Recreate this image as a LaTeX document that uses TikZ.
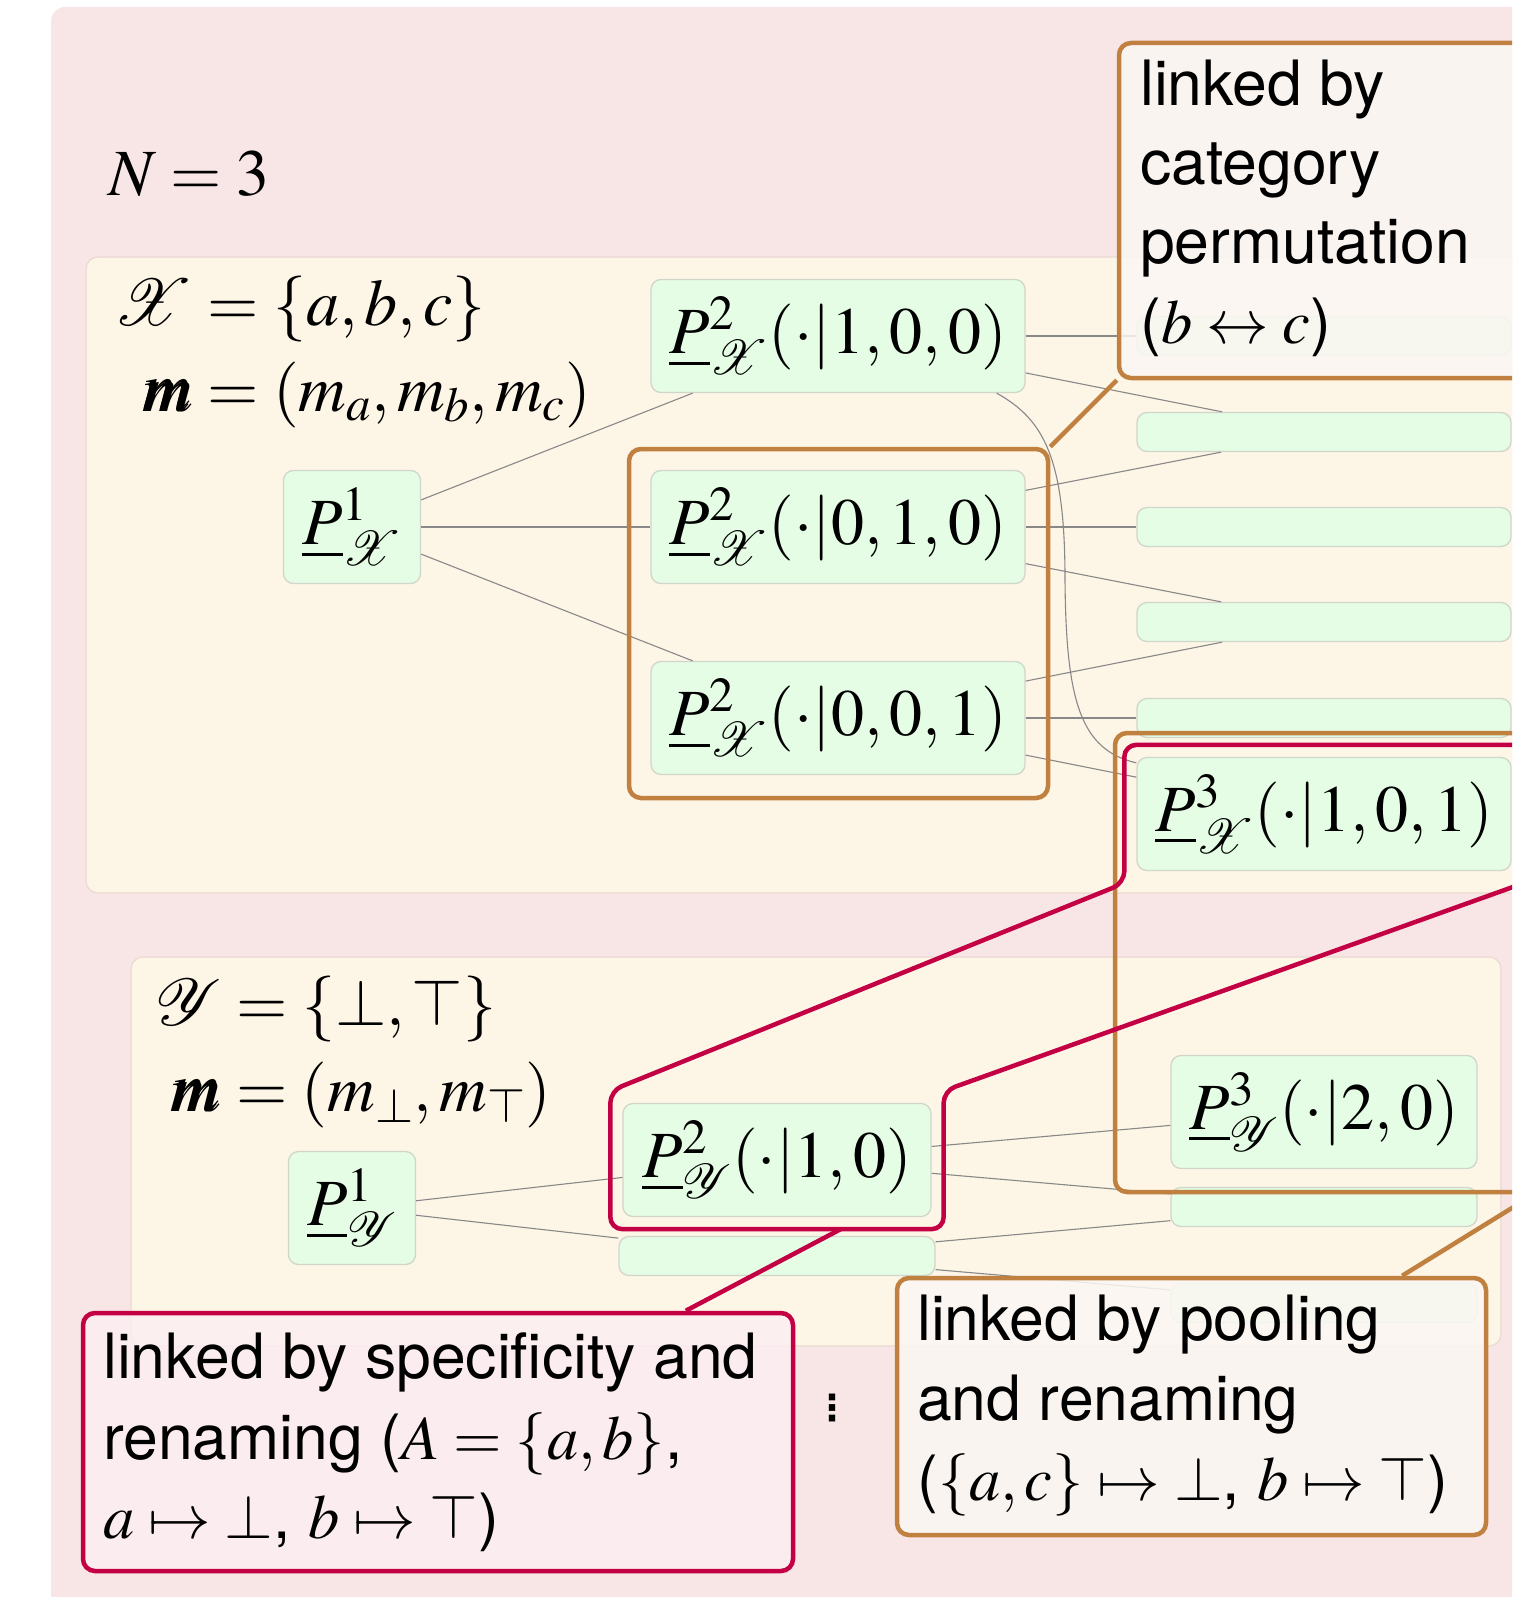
\documentclass[tikz,border=0pt]{standalone}
\usepackage{amsmath}
\usepackage{mathptmx}
\usepackage{bm}
\DeclareFontFamily{U}{rsfsx}{\skewchar\font127 }
\DeclareFontShape{U}{rsfsx}{m}{n}{<-> rsfs10}{}
\DeclareMathAlphabet{\mathscr}{U}{rsfsx}{m}{n}
\usepackage[no-math]{fontspec}
\setsansfont{TeX Gyre Heros}
\newfontfamily\dejavu{DejaVu Sans}
\usetikzlibrary{calc}
\definecolor{bgpink}{HTML}{F8E6E6}
\definecolor{boxyellow}{HTML}{FDF5E6}
\definecolor{boxline}{HTML}{EAD9D2}
\definecolor{nodegreen}{HTML}{E5FCE5}
\definecolor{nodeline}{HTML}{D0D6CA}
\definecolor{edgegray}{HTML}{888888}
\definecolor{linkorange}{HTML}{C0803F}
\definecolor{linkred}{HTML}{C40045}
\definecolor{calloutorange}{HTML}{FBF7F3}
\definecolor{calloutred}{HTML}{FBEEF1}
\newcommand{\mfont}{\fontsize{66}{80}\selectfont}
\newcommand{\sfont}{\fontsize{62.5}{80}\selectfont\sffamily}
\tikzset{
  setbox/.style={draw=boxline, line width=1.2pt, fill=boxyellow, rounded corners=12pt},
  pbox/.style={draw=nodeline, line width=1.3pt, fill=nodegreen, rounded corners=10pt, inner sep=0pt, font=\mfont},
  bigp/.style={pbox, minimum height=113pt},
  emptyp/.style={pbox, minimum height=39pt},
  edge/.style={draw=edgegray, line width=1.1pt},
  orangebox/.style={draw=linkorange, line width=4.5pt, rounded corners=12pt, inner sep=0pt},
  redshape/.style={draw=linkred, line width=4.5pt, rounded corners=12pt},
  ocallout/.style={draw=linkorange, line width=4.5pt, fill=calloutorange, fill opacity=0.85, rounded corners=12pt, inner sep=0pt},
  rcallout/.style={draw=linkred, line width=4.5pt, fill=calloutred, fill opacity=0.85, rounded corners=12pt, inner sep=0pt},
  olink/.style={draw=linkorange, line width=4.5pt},
  rlink/.style={draw=linkred, line width=4.5pt},
  mtext/.style={font=\mfont, inner sep=0pt, anchor=base west},
  ctext/.style={font=\sfont, inner sep=0pt, anchor=base west},
}
\begin{document}
\begin{tikzpicture}[x=1pt, y=-1pt]
\useasboundingbox (0,0) rectangle (1512,1597);
\clip (0,0) rectangle (1512,1597);
% background and set boxes
\fill[bgpink, rounded corners=14pt] (51,7) rectangle (1700,1750);
\draw[setbox] (86,257) rectangle (1700,893);
\draw[setbox] (131,957) rectangle (1501,1346);
% labels
\node[mtext] (Nlabel) at (108,196) {$N=3$};
\node[mtext] (Xlabel) at (113,325) {$\jot=6pt\begin{aligned}[t]\mathscr{X} &= \{a,b,c\}\\ \bm{m} &= (m_a,m_b,m_c)\end{aligned}$};
\node[mtext] (Ylabel) at (155,1025) {$\jot=6pt\begin{aligned}[t]\mathscr{Y} &= \{\bot,\top\}\\ \bm{m} &= (m_\bot,m_\top)\end{aligned}$};
% X nodes
\node[bigp, minimum width=137pt] (P1X) at (352,527) {$\underline{P}^1_{\mathscr{X}}$};
\node[bigp, minimum width=374pt] (P2Xa) at (838,336) {$\underline{P}^2_{\mathscr{X}}(\cdot|1,0,0)$};
\node[bigp, minimum width=374pt] (P2Xb) at (838,527) {$\underline{P}^2_{\mathscr{X}}(\cdot|0,1,0)$};
\node[bigp, minimum width=374pt] (P2Xc) at (838,718) {$\underline{P}^2_{\mathscr{X}}(\cdot|0,0,1)$};
\node[emptyp, minimum width=374pt] (P3Xa) at (1324,336) {};
\node[emptyp, minimum width=374pt] (P3Xb) at (1324,432) {};
\node[emptyp, minimum width=374pt] (P3Xc) at (1324,527) {};
\node[emptyp, minimum width=374pt] (P3Xd) at (1324,622) {};
\node[emptyp, minimum width=374pt] (P3Xe) at (1324,718) {};
\node[bigp, minimum width=374pt] (P3Xf) at (1324,814) {$\underline{P}^3_{\mathscr{X}}(\cdot|1,0,1)$};
% Y nodes
\node[bigp, minimum width=127pt] (P1Y) at (352,1208) {$\underline{P}^1_{\mathscr{Y}}$};
\node[bigp, minimum width=308pt] (P2Ya) at (777,1160) {$\underline{P}^2_{\mathscr{Y}}(\cdot|1,0)$};
\node[emptyp, minimum width=316pt] (P2Yb) at (777,1256) {};
\node[bigp, minimum width=306pt] (P3Ya) at (1324,1112) {$\underline{P}^3_{\mathscr{Y}}(\cdot|2,0)$};
\node[emptyp, minimum width=306pt] (P3Yb) at (1324,1207) {};
\node[emptyp, minimum width=306pt] (P3Yc) at (1324,1303) {};
% edges X
\draw[edge] (P1X) -- (P2Xa);
\draw[edge] (P1X) -- (P2Xb);
\draw[edge] (P1X) -- (P2Xc);
\draw[edge] (P2Xa) -- (P3Xa);
\draw[edge] (P2Xa) -- (P3Xb);
\draw[edge] ([xshift=-29pt]P2Xa.south east) .. controls (1045,420) and (1065,460) .. (1065,580) .. controls (1066,700) and (1080,750) .. ([yshift=-6pt]P3Xf.north west);
\draw[edge] (P2Xb) -- (P3Xb);
\draw[edge] (P2Xb) -- (P3Xc);
\draw[edge] (P2Xb) -- (P3Xd);
\draw[edge] (P2Xc) -- (P3Xd);
\draw[edge] (P2Xc) -- (P3Xe);
\draw[edge] (P2Xc) -- (P3Xf);
% edges Y
\draw[edge] (P1Y) -- (P2Ya);
\draw[edge] (P1Y) -- (P2Yb);
\draw[edge] (P2Ya) -- (P3Ya);
\draw[edge] (P2Ya) -- (P3Yb);
\draw[edge] (P2Yb) -- (P3Yb);
\draw[edge] (P2Yb) -- (P3Yc);
% orange groups
\node[orangebox, minimum width=419pt, minimum height=349pt] (permbox) at (838.5,623.5) {};
\node[orangebox, minimum width=417pt, minimum height=459pt] (poolbox) at (1323.5,962.5) {};
% red group
\draw[redshape] ($(P2Ya.south west)+(-12,12)$) -- ($(P2Ya.north west)+(-12,-12)$) -- ($(P3Xf.south west)+(-12,12)$) -- ($(P3Xf.north west)+(-12,-12)$) -- ($(P3Xf.north east)+(12,-12)$) -- ($(P3Xf.south east)+(12,12)$) -- ($(P2Ya.north east)+(12,-12)$) -- ($(P2Ya.south east)+(12,12)$) -- cycle;
% callouts
\node[ocallout, minimum width=411pt, minimum height=335pt] (permcall) at (1324.5,210.5) {};
\node[ocallout, minimum width=589pt, minimum height=257pt] (poolcall) at (1191.5,1406.5) {};
\node[rcallout, minimum width=710pt, minimum height=258pt] (speccall) at (438,1442) {};
\coordinate (specanchor) at (841,1229);
\draw[olink] (permbox.north east) -- (permcall.south west);
\draw[olink] (poolbox.south east) -- (poolcall);
\draw[rlink] (specanchor) -- (speccall);
% callout texts
\node[ctext] (permt1) at (1140,106) {linked by};
\node[ctext] (permt2) at (1140,185) {category};
\node[ctext] (permt3) at (1140,264) {permutation};
\node[ctext] (permt4) at (1140,343) {($b\leftrightarrow c$)};
\node[ctext] (poolt1) at (917,1340) {linked by pooling};
\node[ctext] (poolt2) at (917,1420) {and renaming};
\node[ctext] (poolt3) at (917,1500) {($\{a,c\}\mapsto\bot$, $b\mapsto\top$)};
\node[ctext] (spect1) at (103,1378) {linked by specificity and};
\node[ctext] (spect2) at (103,1459) {renaming ($A=\{a,b\}$,};
\node[ctext] (spect3) at (103,1538) {$a\mapsto\bot$, $b\mapsto\top$)};
% dots
\node[font=\dejavu\bfseries\fontsize{36}{36}\selectfont, inner sep=0pt] (vdots) at (832,1408) {⋮};
\end{tikzpicture}
\end{document}
